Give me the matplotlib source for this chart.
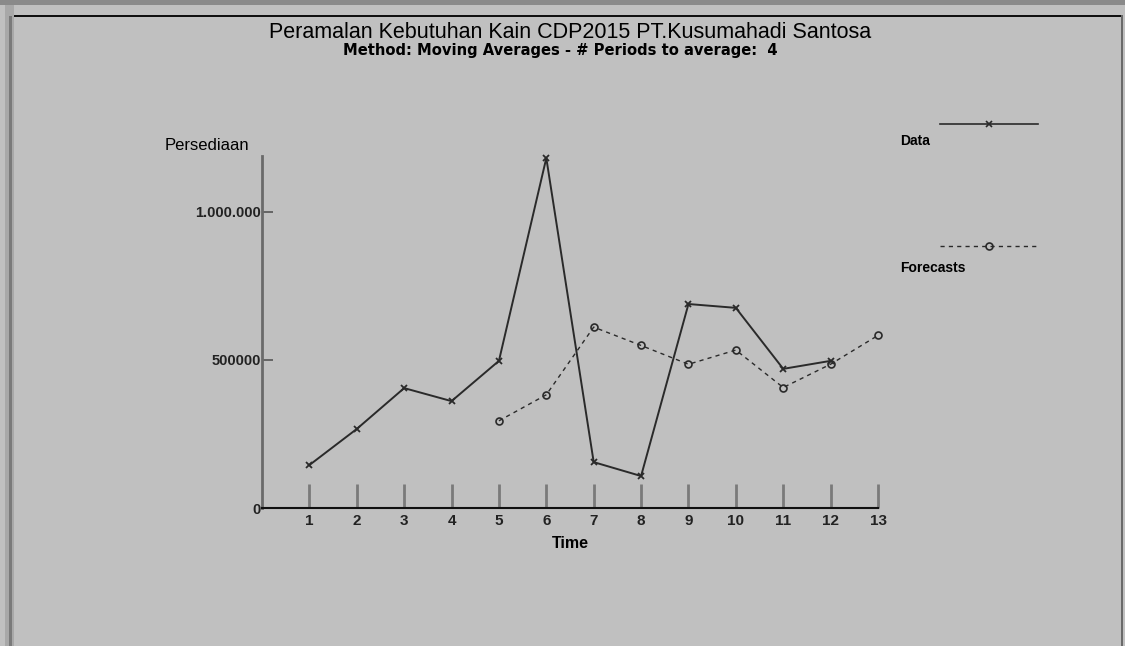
import matplotlib
matplotlib.use("Agg")
import matplotlib.pyplot as plt
from matplotlib.lines import Line2D
from matplotlib.patches import Rectangle

# periode dan nilai yang dibaca dari grafik
periods = [1, 2, 3, 4, 5, 6, 7, 8, 9, 10, 11, 12]
data = [145000, 267000, 405000, 361000, 497000, 1182000,
        155000, 108000, 689000, 676000, 470000, 497000]
fc_periods = [5, 6, 7, 8, 9, 10, 11, 12, 13]
forecasts = [294500, 382500, 611000, 549000, 485500, 533500, 407000, 485750, 583000]
xticks = list(range(1, 14))
yticks = [0, 500000, 1000000]
ytick_labels = ["0", "500000", "1.000.000"]

W, H = 1125, 646
bg = "#c0c0c0"
fig = plt.figure(figsize=(W / 100, H / 100), dpi=100, facecolor=bg)

# bingkai jendela
def px_rect(x, y, w, h, color):
    fig.add_artist(Rectangle((x / W, 1 - (y + h) / H), w / W, h / H,
                             transform=fig.transFigure, color=color, lw=0))

px_rect(0, 0, W, 5, "#8a8a8a")
px_rect(5, 5, 9, H - 5, "#a8a8a8")
px_rect(9, 16, 3, H - 16, "#7a7a7a")
px_rect(14, 15, W - 16, 2, "#101010")
px_rect(W - 4, 15, 2, H - 15, "#6a6a6a")

ax = fig.add_axes([262 / W, 1 - 508 / H, 616 / W, 352 / H])
ax.set_facecolor(bg)
ax.set_xlim(0, 13)
ax.set_ylim(0, 1189000)

ax.plot(periods, data, color="#2a2a2a", lw=1.4, marker="x", ms=5, mew=1.3,
        clip_on=False)
ax.plot(fc_periods, forecasts, color="#2a2a2a", lw=1.0, ls=(0, (3, 3)),
        marker="o", ms=5, mfc="none", mew=1.2, clip_on=False)

for s in ["top", "right"]:
    ax.spines[s].set_visible(False)
ax.spines["left"].set_color("#6a6a6a")
ax.spines["left"].set_linewidth(2)
ax.spines["bottom"].set_color("#101010")
ax.spines["bottom"].set_linewidth(1.5)

ax.set_xticks(xticks)
ax.set_xticklabels([str(t) for t in xticks], fontweight="bold",
                   fontfamily="Liberation Sans", fontsize=11, color="#222222")
ax.set_yticks(yticks)
ax.set_yticklabels(ytick_labels, fontweight="bold",
                   fontfamily="Liberation Sans", fontsize=10.5, color="#222222")
ax.tick_params(axis="x", direction="in", length=17, width=2, color="#7a7a7a", pad=4)
ax.tick_params(axis="y", direction="in", length=8, width=1.2, color="#555555", pad=1)

ax.set_xlabel("Time", fontweight="bold", fontfamily="Liberation Sans",
              fontsize=11.5, labelpad=6)

fig.text(570 / W, 1 - 32 / H, "Peramalan Kebutuhan Kain CDP2015 PT.Kusumahadi Santosa",
         ha="center", va="center", fontfamily="Liberation Sans", fontsize=15.5)
fig.text(560 / W, 1 - 50 / H, "Method: Moving Averages - # Periods to average:  4",
         ha="center", va="center", fontfamily="DejaVu Sans", fontsize=10.6,
         fontweight="bold")
fig.text(165 / W, 1 - 145 / H, "Persediaan", ha="left", va="center",
         fontfamily="Liberation Sans", fontsize=12)

# legenda manual
def legend_line(y, ls, marker, mfc):
    fig.add_artist(Line2D([940 / W, 1038 / W], [1 - y / H, 1 - y / H],
                          transform=fig.transFigure, color="#2a2a2a",
                          lw=1.2 if ls == "-" else 1.0, ls=ls))
    fig.add_artist(Line2D([989 / W], [1 - y / H], transform=fig.transFigure,
                          color="#2a2a2a", marker=marker, ms=5, mfc=mfc, mew=1.2, lw=0))

legend_line(124, "-", "x", "none")
legend_line(246, (0, (3, 3)), "o", "none")
fig.text(900 / W, 1 - 141 / H, "Data", ha="left", va="center",
         fontfamily="Liberation Sans", fontsize=10, fontweight="bold")
fig.text(900 / W, 1 - 268 / H, "Forecasts", ha="left", va="center",
         fontfamily="Liberation Sans", fontsize=10, fontweight="bold")

fig.savefig("out.png", dpi=100, facecolor=bg)
